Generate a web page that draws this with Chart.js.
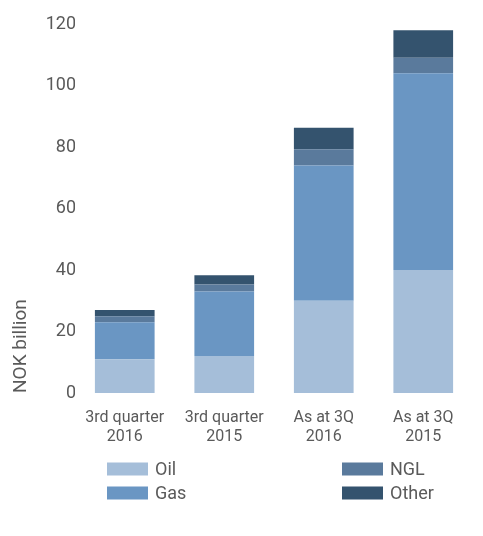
<!DOCTYPE html>
<html>
<head>
<meta charset="utf-8">
<script src="https://cdn.jsdelivr.net/npm/chart.js@4"></script>
<style>
  html, body { margin: 0; padding: 0; background: #fff; }
  #wrap { width: 483px; height: 536px; }
</style>
</head>
<body>
<div id="wrap"><canvas id="chart" width="483" height="536"></canvas></div>
<script>
// 数据
const categories = [['3rd quarter', '2016'], ['3rd quarter', '2015'], ['As at 3Q', '2016'], ['As at 3Q', '2015']];
const oil = [11, 12, 30, 40];
const gas = [12, 21, 44, 64];
const ngl = [2, 2.3, 5.3, 5];
const other = [2, 3, 7, 9];
const yTicks = [0, 20, 40, 60, 80, 100, 120];

const seriesNames = ['Oil', 'Gas', 'NGL', 'Other'];
const seriesColors = ['#a5bed9', '#6a96c3', '#5a7a9c', '#34536e'];
const textColor = '#5a5a5a';
const fontFamily = 'Roboto, "DejaVu Sans", sans-serif';

// 自定义图例（两列）
const legendPlugin = {
  id: 'twoColLegend',
  afterDraw(chart) {
    const ctx = chart.ctx;
    const cols = [107, 342];
    const rows = [469, 493];
    ctx.save();
    ctx.font = '18px ' + fontFamily;
    ctx.textBaseline = 'middle';
    chart.data.datasets.forEach((ds, i) => {
      const x = cols[Math.floor(i / 2)];
      const y = rows[i % 2];
      ctx.fillStyle = ds.backgroundColor;
      ctx.fillRect(x, y - 6.5, 41, 13);
      ctx.fillStyle = textColor;
      ctx.fillText(ds.label, x + 48, y + 1);
    });
    ctx.restore();
  }
};

const values = [oil, gas, ngl, other];

new Chart(document.getElementById('chart'), {
  type: 'bar',
  data: {
    labels: categories,
    datasets: values.map((v, i) => ({
      label: seriesNames[i],
      data: v,
      backgroundColor: seriesColors[i],
      borderWidth: 0,
      categoryPercentage: 1,
      barPercentage: 0.6
    }))
  },
  options: {
    responsive: false,
    animation: false,
    layout: { padding: { top: 24, right: 10, bottom: 83, left: 0 } },
    plugins: {
      legend: { display: false },
      tooltip: { enabled: false }
    },
    scales: {
      x: {
        stacked: true,
        grid: { display: false, drawTicks: false },
        border: { display: false },
        ticks: {
          color: textColor,
          font: { family: fontFamily, size: 16 },
          padding: 15,
          maxRotation: 0
        },
        afterFit(scale) { scale.height = 60; }
      },
      y: {
        stacked: true,
        min: 0,
        max: 120,
        afterBuildTicks(scale) { scale.ticks = yTicks.map(v => ({ value: v })); },
        grid: { display: false, drawTicks: false },
        border: { display: false },
        ticks: {
          color: textColor,
          font: { family: fontFamily, size: 18 },
          padding: -1
        },
        title: {
          display: true,
          text: 'NOK billion',
          align: 'start',
          color: textColor,
          font: { family: fontFamily, size: 19 },
          padding: { top: 10, bottom: 0 }
        },
        afterFit(scale) { scale.width = 75; }
      }
    }
  },
  plugins: [legendPlugin]
});
</script>
</body>
</html>
